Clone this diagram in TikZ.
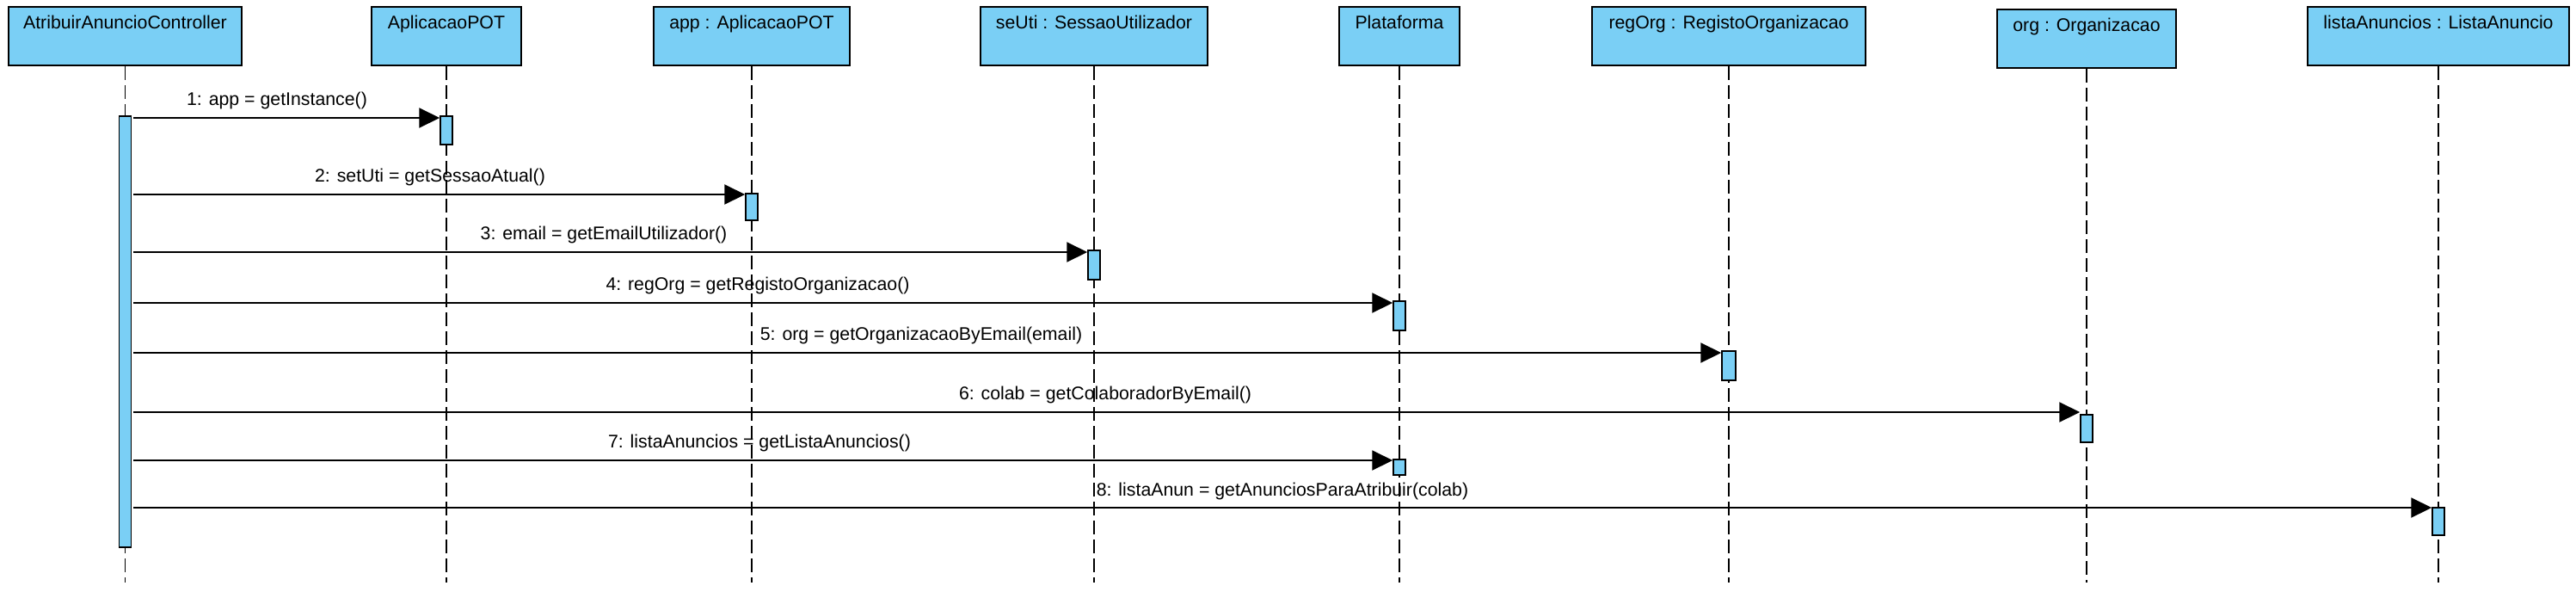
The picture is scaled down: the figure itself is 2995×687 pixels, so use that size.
\documentclass[tikz,border=0pt]{standalone}
\usepackage{fontspec}
\setmainfont{Liberation Sans}
\usetikzlibrary{arrows.meta}
\definecolor{objblue}{RGB}{122,207,245}
\begin{document}
\begin{tikzpicture}[x=0.5pt,y=-0.5pt,
  font=\fontsize{10.65pt}{12.8pt}\selectfont,
  obj/.style={draw=black, fill=objblue, line width=1pt, anchor=north west, minimum height=34pt, inner sep=0pt},
  otext/.style={anchor=base, inner sep=0pt},
  life/.style={draw=black, line width=0.75pt, dash pattern=on 8pt off 3pt},
  act/.style={draw=black, fill=objblue, line width=0.75pt, anchor=north, minimum width=7pt, inner sep=0pt},
  msg/.style={draw=black, line width=1pt, -{Triangle[length=12pt,width=11.5pt]}},
  lbl/.style={anchor=base, inner sep=0pt}]
\fill[white] (0,0) rectangle (2995,687);
\useasboundingbox (0,0) rectangle (2995,687);

% objects
\node[obj, minimum width=135.5pt] (ctrl) at (9,7) {};
\node[obj, minimum width=87pt] (apl) at (431,7) {};
\node[obj, minimum width=114pt] (app) at (759,7) {};
\node[obj, minimum width=132pt] (seu) at (1139,7) {};
\node[obj, minimum width=70pt] (plat) at (1556,7) {};
\node[obj, minimum width=159pt] (reg) at (1850,7) {};
\node[obj, minimum width=104pt] (org) at (2321,10) {};
\node[obj, minimum width=152pt] (lista) at (2682,7) {};

\node[otext] (ctrlT) at ([yshift=-13pt]ctrl.north) {AtribuirAnuncioController};
\node[otext] (aplT) at ([yshift=-13pt]apl.north) {AplicacaoPOT};
\node[otext] (appT) at ([yshift=-13pt]app.north) {app : AplicacaoPOT};
\node[otext] (seuT) at ([yshift=-13pt]seu.north) {seUti : SessaoUtilizador};
\node[otext] (platT) at ([yshift=-13pt]plat.north) {Plataforma};
\node[otext] (regT) at ([yshift=-13pt]reg.north) {regOrg : RegistoOrganizacao};
\node[otext] (orgT) at ([yshift=-13pt]org.north) {org : Organizacao};
\node[otext] (listaT) at ([yshift=-13pt]lista.north) {listaAnuncios : ListaAnuncio};

% lifeline ends
\coordinate (ctrlE) at (ctrl.south |- 0,677);
\coordinate (aplE) at (apl.south |- 0,677);
\coordinate (appE) at (app.south |- 0,677);
\coordinate (seuE) at (seu.south |- 0,677);
\coordinate (platE) at (plat.south |- 0,677);
\coordinate (regE) at (reg.south |- 0,677);
\coordinate (orgE) at (org.south |- 0,677);
\coordinate (listaE) at (lista.south |- 0,677);

\draw[life] (ctrl.south) -- (ctrlE);
\draw[life] (apl.south) -- (aplE);
\draw[life] (app.south) -- (appE);
\draw[life] (seu.south) -- (seuE);
\draw[life] (plat.south) -- (platE);
\draw[life] (reg.south) -- (regE);
\draw[life] (org.south) -- (orgE);
\draw[life] (lista.south) -- (listaE);

% activations
\node[act, minimum height=250.5pt] (ac) at (ctrl.south |- 0,134) {};
\node[act, minimum height=16.5pt] (a1) at (apl.south |- 0,134) {};
\node[act, minimum height=15.5pt] (a2) at (app.south |- 0,224) {};
\node[act, minimum height=17pt] (a3) at (seu.south |- 0,290) {};
\node[act, minimum height=17pt] (a4) at (plat.south |- 0,349) {};
\node[act, minimum height=17pt, minimum width=8pt] (a5) at (reg.south |- 0,407) {};
\node[act, minimum height=16pt] (a6) at (org.south |- 0,481) {};
\node[act, minimum height=9pt] (a7) at (plat.south |- 0,533) {};
\node[act, minimum height=16pt] (a8) at (lista.south |- 0,589) {};

% message start points
\coordinate (s1) at (155,137);
\coordinate (s2) at (155,226);
\coordinate (s3) at (155,293);
\coordinate (s4) at (155,352);
\coordinate (s5) at (155,410);
\coordinate (s6) at (155,479);
\coordinate (s7) at (155,535);
\coordinate (s8) at (155,590);

\draw[msg] (s1) -- (s1 -| a1.west);
\draw[msg] (s2) -- (s2 -| a2.west);
\draw[msg] (s3) -- (s3 -| a3.west);
\draw[msg] (s4) -- (s4 -| a4.west);
\draw[msg] (s5) -- (s5 -| a5.west);
\draw[msg] (s6) -- (s6 -| a6.west);
\draw[msg] (s7) -- (s7 -| a7.west);
\draw[msg] (s8) -- (s8 -| a8.west);

% labels
\node[lbl] (l1) at (322,122) {1: app = getInstance()};
\node[lbl] (l2) at (500,211) {2: setUti = getSessaoAtual()};
\node[lbl] (l3) at (702,278) {3: email = getEmailUtilizador()};
\node[lbl] (l4) at (881,337) {4: regOrg = getRegistoOrganizacao()};
\node[lbl] (l5) at (1071,395) {5: org = getOrganizacaoByEmail(email)};
\node[lbl] (l6) at (1285,464) {6: colab = getColaboradorByEmail()};
\node[lbl] (l7) at (883,520) {7: listaAnuncios = getListaAnuncios()};
\node[lbl] (l8) at (1491,576) {8: listaAnun = getAnunciosParaAtribuir(colab)};
\end{tikzpicture}
\end{document}
